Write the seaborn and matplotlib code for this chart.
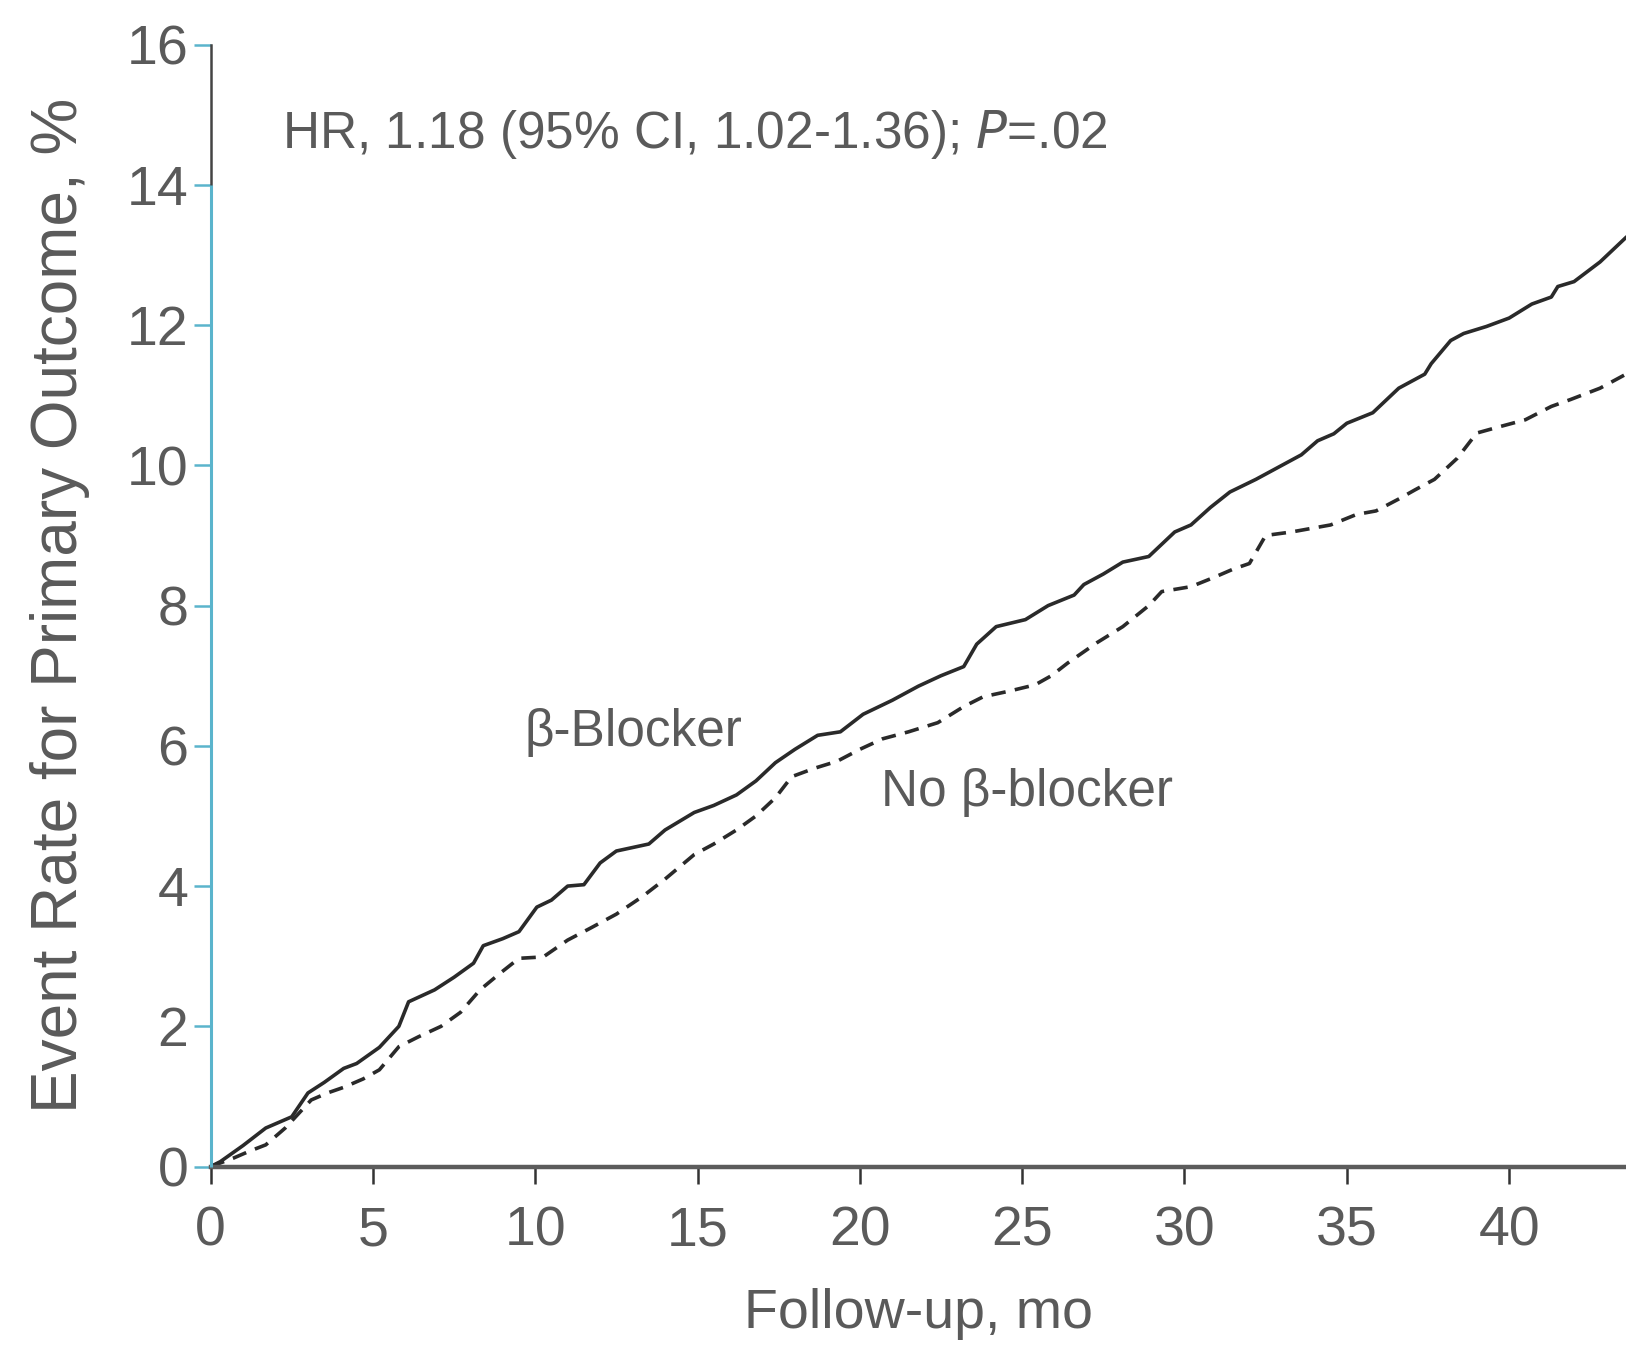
import pandas as pd
import matplotlib.pyplot as plt
import seaborn as sns

# Kaplan-Meier style cumulative event rates
bb_months = [0, 0.3, 1.0, 1.7, 2.5, 3.0, 3.5, 4.1, 4.5, 5.2, 5.8, 6.1, 6.9, 7.5, 8.1, 8.4,
             9.0, 9.5, 10.05, 10.5, 11.0, 11.5, 12.0, 12.5, 13.0, 13.5, 14.0, 14.9, 15.5,
             16.2, 16.8, 17.4, 18.0, 18.7, 19.4, 20.1, 21.0, 21.8, 22.5, 23.2, 23.6, 24.2,
             25.1, 25.8, 26.6, 26.9, 27.5, 28.1, 28.9, 29.7, 30.2, 30.8, 31.4, 32.2, 33.0,
             33.6, 34.1, 34.6, 35.0, 35.8, 36.6, 37.4, 37.6, 38.2, 38.6, 39.3, 40.0, 40.7,
             41.3, 41.5, 42.0, 42.8, 43.6, 44.0]
bb_rate = [0, 0.07, 0.3, 0.55, 0.71, 1.05, 1.2, 1.4, 1.47, 1.7, 2.0, 2.35, 2.52, 2.7, 2.9,
           3.15, 3.25, 3.35, 3.7, 3.8, 4.0, 4.02, 4.33, 4.5, 4.55, 4.6, 4.8, 5.05, 5.15, 5.3,
           5.5, 5.76, 5.95, 6.15, 6.2, 6.45, 6.65, 6.85, 7.0, 7.13, 7.45, 7.7, 7.8, 8.0,
           8.15, 8.3, 8.45, 8.62, 8.7, 9.05, 9.15, 9.4, 9.62, 9.8, 10.0, 10.15, 10.35,
           10.45, 10.6, 10.75, 11.1, 11.3, 11.45, 11.78, 11.88, 11.98, 12.1, 12.3, 12.4,
           12.55, 12.62, 12.9, 13.25, 13.4]

nobb_months = [0, 0.7, 1.2, 1.7, 2.3, 2.8, 3.1, 3.6, 4.1, 4.7, 5.2, 5.8, 6.4, 7.1, 7.7, 8.3,
               8.9, 9.5, 10.25, 11.0, 11.7, 12.5, 13.3, 14.0, 14.9, 15.5, 16.2, 16.8, 17.4,
               17.9, 18.6, 19.3, 20.0, 20.7, 21.5, 22.4, 23.2, 23.8, 24.6, 25.4, 25.9, 26.4,
               27.3, 28.1, 28.9, 29.3, 30.2, 30.9, 31.5, 32.0, 32.5, 33.3, 34.5, 35.3, 35.9,
               36.6, 37.1, 37.7, 38.4, 39.0, 39.7, 40.5, 41.3, 41.9, 42.8, 43.6, 44.0]
nobb_rate = [0, 0.12, 0.22, 0.31, 0.55, 0.8, 0.95, 1.05, 1.13, 1.25, 1.38, 1.71, 1.85, 2.0,
             2.2, 2.52, 2.75, 2.97, 2.99, 3.23, 3.4, 3.6, 3.85, 4.1, 4.45, 4.6, 4.8, 5.0,
             5.26, 5.56, 5.68, 5.78, 5.95, 6.1, 6.2, 6.33, 6.56, 6.7, 6.78, 6.87, 7.0, 7.18,
             7.47, 7.7, 8.0, 8.2, 8.27, 8.4, 8.52, 8.6, 9.0, 9.05, 9.15, 9.3, 9.35, 9.52,
             9.65, 9.8, 10.1, 10.46, 10.55, 10.65, 10.84, 10.94, 11.1, 11.3, 11.4]

x_ticks = [0, 5, 10, 15, 20, 25, 30, 35, 40]
y_ticks = [0, 2, 4, 6, 8, 10, 12, 14, 16]

df = pd.concat([
    pd.DataFrame({'month': bb_months, 'rate': bb_rate, 'group': 'bb'}),
    pd.DataFrame({'month': nobb_months, 'rate': nobb_rate, 'group': 'nobb'}),
])

sns.set_theme(style='white')
plt.rcParams['font.family'] = ['Liberation Sans', 'DejaVu Sans']

fig = plt.figure(figsize=(16.26, 13.51), dpi=100)
ax = fig.add_axes([0.1295, 0.1365, 0.8705, 0.8305])

sns.lineplot(data=df, x='month', y='rate', style='group', estimator=None, sort=False,
             dashes={'bb': '', 'nobb': (4, 2.6)}, color='#2a2a2a', linewidth=2.6,
             legend=False, ax=ax)

ax.set_xlim(0, 43.6)
ax.set_ylim(0, 16)
ax.set_xticks(x_ticks)
ax.set_yticks(y_ticks)

text_col = '#5a5a5a'
ax.tick_params(axis='both', labelsize=40, labelcolor=text_col, direction='out',
               length=12, width=1.8, bottom=True, left=True)
ax.tick_params(axis='x', pad=16, color='#333333')
ax.tick_params(axis='y', pad=4, color='#5ab4cc')
ax.yaxis.get_major_ticks()[-1].tick1line.set_color('#444444')

for side in ['top', 'right']:
    ax.spines[side].set_visible(False)
ax.spines['bottom'].set_color('#5c5c5c')
ax.spines['bottom'].set_linewidth(3.2)
ax.spines['left'].set_color('#444444')
ax.spines['left'].set_linewidth(1.8)
# highlighted lower part of the y axis
ax.vlines(0, 0, 14, color='#5ab4cc', linewidth=2.2, clip_on=False, zorder=3)

ax.set_xlabel('Follow-up, mo', fontsize=40, color=text_col, labelpad=22)
ax.set_ylabel('Event Rate for Primary Outcome, %', fontsize=46, color=text_col, labelpad=26)

ax.text(2.2, 14.72, 'HR, 1.18 (95% CI, 1.02-1.36); $\\it{P}$=.02', fontsize=37,
        color=text_col, va='center', ha='left')
ax.text(9.66, 6.19, 'β-Blocker', fontsize=37, color=text_col, va='center', ha='left')
ax.text(20.66, 5.33, 'No β-blocker', fontsize=37, color=text_col, va='center', ha='left')

plt.savefig('out.png', dpi=100)
